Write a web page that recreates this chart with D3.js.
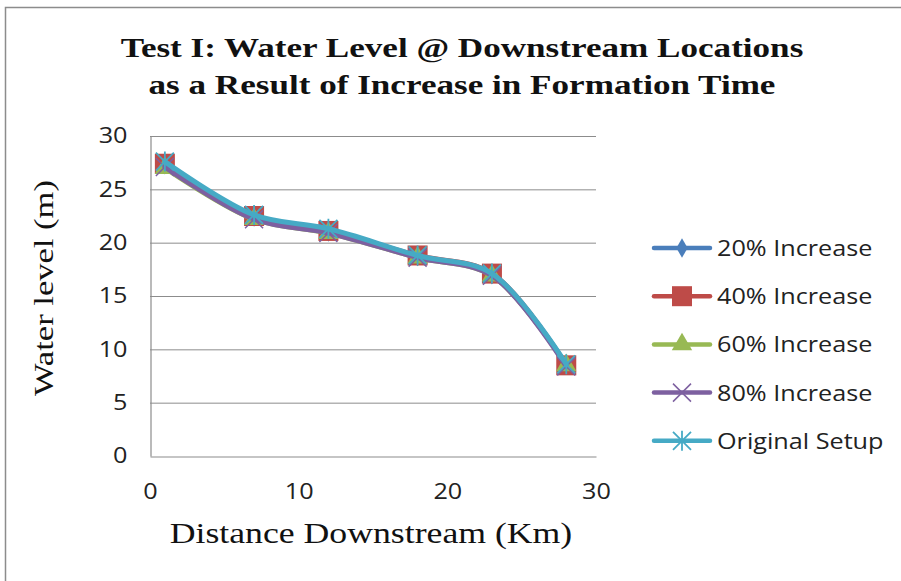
<!DOCTYPE html>
<html><head><meta charset="utf-8">
<script src="https://cdn.jsdelivr.net/npm/d3@7"></script>
<style>body{margin:0;background:#fff}</style>
</head><body>
<svg id="c" width="901" height="581"></svg>
<script>
const distances = [1, 7, 12, 18, 23, 28];
const seriesNames = ["20% Increase", "40% Increase", "60% Increase", "80% Increase", "Original Setup"];
const s20 = [27.3, 22.4, 21.0, 18.7, 17.0, 8.5];
const s40 = [27.4, 22.5, 21.1, 18.8, 17.1, 8.5];
const s60 = [27.0, 22.2, 20.9, 18.6, 16.9, 8.5];
const s80 = [27.1, 22.2, 20.9, 18.6, 16.9, 8.4];
const sOrig = [27.6, 22.6, 21.3, 18.8, 17.1, 8.6];
const xTicks = [0, 10, 20, 30];
const yTicks = [0, 5, 10, 15, 20, 25, 30];
const colors = ["#4A7EBB", "#BE4B48", "#98B954", "#7D60A0", "#46AAC5"];
const markers = ["diamond", "square", "triangle", "x", "star"];
const allSeries = [s20, s40, s60, s80, sOrig];

const svg = d3.select("#c");
function stretch(sel, f) {
  sel.each(function() {
    const len = this.getComputedTextLength();
    d3.select(this).attr("textLength", len * f).attr("lengthAdjust", "spacingAndGlyphs");
  });
}
const SANS = "'Open Sans', 'Liberation Sans', sans-serif";
const SERIF = "'Liberation Serif', serif";

// outer frame
svg.append("rect").attr("x", 5.5).attr("y", 7.5).attr("width", 910).attr("height", 600)
  .attr("fill", "none").attr("stroke", "#8c8c8c").attr("stroke-width", 1.5);

const x = d3.scaleLinear().domain([0, 30]).range([150, 596]);
const y = d3.scaleLinear().domain([0, 30]).range([456, 136]);

// gridlines
svg.append("g").selectAll("line").data(yTicks.filter(d => d > 0)).join("line")
  .attr("x1", x(0)).attr("x2", x(30)).attr("y1", d => y(d) + 0.5).attr("y2", d => y(d) + 0.5)
  .attr("stroke", "#8c8c8c").attr("stroke-width", 1);

// axes
const yAxis = svg.append("g").attr("transform", `translate(${x(0)+0.5},0)`)
  .call(d3.axisLeft(y).tickValues(yTicks).tickSize(0).tickPadding(23));
const xAxis = svg.append("g").attr("transform", `translate(0,${y(0)+0.5})`)
  .call(d3.axisBottom(x).tickValues(xTicks).tickSize(0).tickPadding(28));
[yAxis, xAxis].forEach(a => {
  a.select(".domain").attr("stroke", "#8c8c8c").attr("stroke-width", 1.2);
  a.selectAll("text").attr("font-family", SANS).attr("font-size", 21).attr("fill", "#222");
  stretch(a.selectAll("text"), 1.2);
});

// titles
const t1 = svg.append("text").attr("x", 462).attr("y", 57).attr("text-anchor", "middle")
  .attr("font-family", SERIF).attr("font-weight", "bold").attr("font-size", 27).attr("fill", "#111")
  .text("Test I: Water Level @ Downstream Locations");
const t2 = svg.append("text").attr("x", 462).attr("y", 94).attr("text-anchor", "middle")
  .attr("font-family", SERIF).attr("font-weight", "bold").attr("font-size", 27).attr("fill", "#111")
  .text("as a Result of Increase in Formation Time");
stretch(t1, 1.3); stretch(t2, 1.3);

const xt = svg.append("text").attr("x", 371).attr("y", 543).attr("text-anchor", "middle")
  .attr("font-family", SERIF).attr("font-size", 30).attr("fill", "#111")
  .text("Distance Downstream (Km)");
stretch(xt, 1.19);
const yt = svg.append("text").attr("transform", "translate(53,288) rotate(-90)").attr("text-anchor", "middle")
  .attr("font-family", SERIF).attr("font-size", 27).attr("fill", "#111")
  .text("Water level (m)");
stretch(yt, 1.28);

function drawMarker(g, type, color, cx, cy) {
  if (type === "diamond") {
    g.append("path").attr("d", d3.symbol(d3.symbolDiamond, 110)()).attr("transform", `translate(${cx},${cy})`).attr("fill", color);
  } else if (type === "square") {
    g.append("rect").attr("x", cx - 10).attr("y", cy - 10).attr("width", 20).attr("height", 20).attr("fill", color);
  } else if (type === "triangle") {
    g.append("path").attr("d", d3.symbol(d3.symbolTriangle, 180)()).attr("transform", `translate(${cx},${cy})`).attr("fill", color);
  } else if (type === "x") {
    g.append("path").attr("d", `M${cx-9},${cy-9}L${cx+9},${cy+9}M${cx-9},${cy+9}L${cx+9},${cy-9}`)
      .attr("stroke", color).attr("stroke-width", 1.5).attr("fill", "none");
  } else {
    g.append("path").attr("d", `M${cx-9},${cy-9}L${cx+9},${cy+9}M${cx-9},${cy+9}L${cx+9},${cy-9}M${cx},${cy-10}L${cx},${cy+10}`)
      .attr("stroke", color).attr("stroke-width", 1.8).attr("fill", "none");
  }
}

const line = d3.line().x((d, i) => x(distances[i])).y(d => y(d)).curve(d3.curveCatmullRom.alpha(0.5));
allSeries.forEach((s, k) => {
  const g = svg.append("g");
  g.append("path").attr("d", line(s)).attr("fill", "none").attr("stroke", colors[k])
    .attr("stroke-width", 5).attr("stroke-linejoin", "round").attr("stroke-linecap", "round");
  s.forEach((v, i) => drawMarker(g, markers[k], colors[k], x(distances[i]), y(v)));
});

// legend
const lg = svg.append("g");
seriesNames.forEach((n, k) => {
  const ly = 248 + k * 48.2;
  lg.append("line").attr("x1", 654).attr("x2", 710).attr("y1", ly).attr("y2", ly)
    .attr("stroke", colors[k]).attr("stroke-width", 4.5).attr("stroke-linecap", "round");
  drawMarker(lg, markers[k], colors[k], 682, ly);
  const t = lg.append("text").attr("x", 717).attr("y", ly + 8).attr("font-family", SANS)
    .attr("font-size", 21).attr("fill", "#222").text(n);
  stretch(t, 1.2);
});
</script>
</body></html>
